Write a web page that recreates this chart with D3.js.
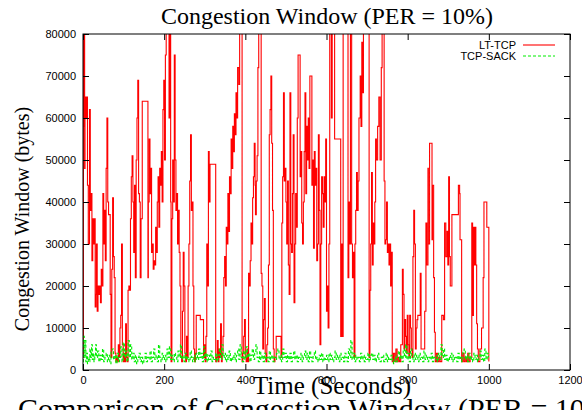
<!DOCTYPE html>
<html><head><meta charset="utf-8">
<script src="https://cdn.jsdelivr.net/npm/d3@7/dist/d3.min.js"></script>
<style>
html,body{margin:0;padding:0;background:#fff;}
svg{display:block;}
</style></head>
<body>
<svg id="chart" width="582" height="410"></svg>
<script>
// ---- data ----
const chartTitle = "Congestion Window (PER = 10%)";
const xLabel = "Time (Seconds)";
const yLabel = "Congestion Window (bytes)";
const caption = "Comparison of Congestion Window (PER = 10%)";
const seriesNames = ["LT-TCP", "TCP-SACK"];
const xTicks = [0, 200, 400, 600, 800, 1000, 1200];
const yTicks = [0, 10000, 20000, 30000, 40000, 50000, 60000, 70000, 80000];

// LT-TCP congestion window samples [time s, bytes]
const ltTcp = [
[0,3000],[1,95000],[2,58000],[3,90000],[4,48000],[5,65000],[7,60000],[9,65000],[11,44000],[13,30000],[16,62000],[18,38000],[20,42000],[22,26000],[24,36000],[26,30000],[28,36000],[30,15000],[32,18000],[33,30000],[35,14000],[37,20000],[39,18000],[41,20000],[43,16000],[45,24000],[47,20000],[49,42000],[51,30000],[53,38000],[55,26000],[57,48000],[59,60000],[61,40000],[63,37000],[65,37000],[67,18000],[69,3000],[71,24000],[73,41000],[75,27000],[77,22000],[79,4000],[81,2000],[83,3000],[85,2000],[87,6000],[89,3000],[91,10000],[93,13000],[95,30000],[97,6000],[99,2000],[101,4000],[103,2000],[105,11000],[107,3000],[109,2000],[111,19000],[113,20000],[115,19000],[117,36000],[119,46000],[121,51000],[123,40000],[125,28000],[127,44000],[129,22000],[131,50000],[133,60000],[135,69000],[137,42000],[139,40000],[141,22000],[143,36000],[146,64000],[159,64000],[160,22000],[161,40000],[163,55000],[165,42000],[167,48000],[169,28000],[171,30000],[173,24000],[175,26000],[177,25000],[179,34000],[181,28000],[183,40000],[185,46000],[187,34000],[189,48000],[191,44000],[193,52000],[195,40000],[197,62000],[199,69000],[201,50000],[203,75000],[205,95000],[209,90000],[212,60000],[214,95000],[216,40000],[217,2000],[219,36000],[221,50000],[223,40000],[225,75000],[227,50000],[229,38000],[231,42000],[233,30000],[235,38000],[237,28000],[239,20000],[241,3000],[243,2000],[245,14000],[247,28000],[249,20000],[251,4000],[253,2000],[255,8000],[257,3000],[259,20000],[261,30000],[263,45000],[265,56000],[267,38000],[269,40000],[271,20000],[273,5000],[275,2000],[277,4000],[279,13000],[287,13000],[289,12000],[295,12000],[297,3000],[299,6000],[301,2000],[303,8000],[305,30000],[307,20000],[309,52000],[311,40000],[313,49000],[325,49000],[327,2000],
[329,3000],[331,7000],[333,2000],[335,5000],[337,3000],[339,11000],[341,2000],[343,4000],[345,8000],[347,22000],[349,27000],[351,20000],[353,34000],[355,30000],[357,42000],[359,33000],[361,46000],[363,42000],[365,55000],[367,48000],[369,58000],[371,52000],[373,61000],[375,56000],[377,66000],[379,60000],[381,72000],[384,68000],[386,95000],[391,95000],[392,2000],[394,4000],[396,8000],[398,12000],[400,3000],[402,2000],[404,5000],[406,2000],[408,23000],[410,20000],[412,26000],[414,35000],[416,30000],[418,41000],[420,46000],[422,54000],[424,44000],[425,37000],[427,45000],[429,51000],[431,72000],[433,95000],[438,95000],[439,23000],[441,20000],[443,5000],[445,12000],[447,17000],[449,4000],[451,2000],[453,6000],[455,10000],[457,25000],[459,56000],[461,62000],[463,70000],[465,54000],[467,38000],[469,5000],[471,2000],[473,3000],[476,8000],[486,8000],[488,3000],[490,35000],[492,46000],[494,66000],[496,45000],
[498,48000],[500,40000],[502,30000],[504,45000],[506,25000],[508,18000],[510,66000],[512,30000],[514,28000],[516,42000],[518,56000],[520,16000],[522,30000],[524,42000],[526,34000],[528,60000],[530,75000],[533,75000],[535,46000],[537,52000],[539,35000],[541,30000],[543,40000],[545,52000],[547,66000],[549,42000],[551,58000],[553,50000],[555,60000],[557,48000],[559,70000],[562,70000],[564,44000],[566,50000],[568,29000],[570,52000],[572,44000],[574,48000],[576,26000],[578,30000],[580,56000],[582,38000],[584,6000],[586,30000],[588,46000],[590,42000],[592,34000],[594,46000],[596,40000],[598,55000],[600,14000],[602,20000],[604,10000],[606,30000],[608,95000],[612,60000],[614,95000],[618,95000],[620,55000],[634,55000],[635,8000],[637,30000],[639,8000],[641,95000],[652,95000],[653,22000],[655,40000],[657,30000],[659,95000],
[661,95000],[662,30000],[664,22000],[666,28000],[668,3000],[670,30000],[672,38000],[674,47000],[676,38000],[678,45000],[680,60000],[683,70000],[685,58000],[687,78000],[689,66000],[691,95000],[703,95000],[705,3000],[707,19000],[709,30000],[711,47000],[713,25000],[715,35000],[717,30000],[719,40000],[721,55000],[723,50000],[726,58000],[729,65000],[732,50000],[735,72000],[737,95000],[741,95000],[742,45000],[744,30000],[746,31000],[748,40000],[750,28000],[752,30000],[754,25000],[756,30000],[758,20000],[760,28000],[762,2000],[765,4000],[768,2000],[771,5000],[774,2000],[777,3000],[780,2000],[783,6000],[785,6000],[787,24000],[789,18000],[791,5000],[793,12000],[795,8000],[797,4000],[799,13000],[801,6000],[803,3000],[805,13000],[807,10000],[809,5000],[811,3000],[813,27000],[815,38000],[817,30000],[819,5000],[821,10000],[823,12000],
[825,13000],[827,13000],[831,23000],[833,5000],[837,5000],[842,14000],[845,35000],[847,25000],[850,48000],[851,30000],[854,54000],[858,54000],[860,31000],[861,44000],[864,22000],[866,9000],[868,2000],[871,4000],[874,2000],[877,3000],[880,2000],[884,13000],[888,12000],[891,35000],[894,27000],[897,33000],[899,25000],[901,46000],[903,27000],[905,20000],[909,37000],[925,44000],[928,42000],[929,31000],[933,2000],[936,4000],[939,2000],[942,3000],[945,2000],[948,4000],[951,2000],[954,3000],[958,35000],[960,13000],[962,34000],[964,25000],[966,34000],[968,25000],[970,11000],[972,5000],[974,2000],[978,5000],[982,10000],[986,22000],[988,40000],[995,34000],[1000,2000]
];

// TCP-SACK congestion window samples [time s, bytes]
const tcpSack = [
[0,2000],[1,8000],[3,3000],[5,7000],[7,2000],[9,4000],[11,1500],[13,3000],[15,2000],[17,5000],[19,3000],[21,6000],[23,2500],[25,4000],[27,2000],[29,3500],[31,6000],[33,3000],[36,4500],[39,2000],[42,3500],[45,2500],[48,5000],[51,2000],[54,3000],[57,4000],[60,2000],[63,3500],[66,1500],[69,4500],[72,5000],[75,2500],[78,3500],[81,1500],[84,4000],[87,2000],[90,3000],[93,5500],[96,2000],[99,6500],[102,3000],[105,4500],[108,2000],[111,7000],[114,3000],[117,6000],[120,2500],[123,4000],[126,2000],[129,3500],[132,1500],[135,3000],[138,4000],[141,2000],[144,3000],[147,1500],[150,2500],[153,4000],[156,2000],[159,3000],[162,2500],[165,4500],[168,2000],[171,3000],[174,5000],[177,2500],[180,3500],[183,2000],[186,6000],[189,3000],[192,2000],[195,4000],[198,2500],[201,3500],[204,2000],[207,5000],[210,3000],[213,5500],[216,2500],[219,3500],[222,2000],[225,4000],[228,3000],[231,2000],[234,4500],[237,3000],[240,6000],[243,2500],[246,3500],[249,2000],[252,4000],[255,2500],[258,3000],[261,2000],[264,4500],[267,3000],[270,2000],[273,3500],[276,2000],[279,4000],[282,2500],[285,5000],[288,3000],[291,4000],[294,2000],[297,5500],[300,2500],[303,4000],[306,2000],[309,3500],[312,2500],[315,4500],[318,2000],[321,3000],[324,2500],[327,4000],[330,2000],[333,3500],[336,5000],[339,2500],[342,6000],[345,3000],[348,4000],[351,2000],[354,3500],[357,2500],[360,4500],[363,2000],[366,3000],[369,2500],[372,4000],[375,2000],[378,3500],[381,5000],[384,2500],[387,6000],[390,3000],[393,2000],[396,4500],[399,2500],[402,5500],[405,3000],[408,4000],[411,2000],[414,3500],[417,5000],[420,2500],[423,4000],[426,6000],[429,3000],[432,2000],[435,4500],[438,2500],[441,3500],[444,2000],[447,4000],[450,2500],[453,3000],[456,2000],[459,4500],[462,2500],[465,3500],[468,2000],[471,3000],[474,2500],[477,4000],[480,5000],[483,2500],[486,3500],[489,2000],[492,5000],[495,3000],[498,4000],[501,2000],[504,3500],[507,2500],[510,4000],[513,2000],[516,3000],[519,4500],[522,2500],[525,3500],[528,2000],[531,3000],[534,2500],[537,4000],[540,2000],[543,3500],[546,4500],[549,2500],[552,4000],[555,2000],[558,4500],[561,3000],[564,2000],[567,3500],[570,4500],[573,2500],[576,3000],[579,2000],[582,3500],[585,2500],[588,4000],[591,2000],[594,3000],[597,2500],[600,3500],[603,2000],[606,4000],[609,2500],[612,3500],[615,2000],[618,3000],[621,4500],[624,2500],[627,3500],[630,2000],[633,4000],[636,2500],[639,3000],[642,2000],[645,4000],[648,3000],[651,2000],[654,5000],[657,3000],[660,7000],[663,2500],[666,4000],[669,2000],[672,3500],[675,2500],[678,3000],[681,2000],[684,4000],[687,2500],[690,3500],[693,2000],[696,3000],[699,2500],[702,4000],[705,2000],[708,3500],[711,4000],[714,2500],[717,3500],[720,2000],[723,3000],[726,4000],[729,2500],[732,2000],[735,3000],[738,3500],[741,2000],[744,2500],[747,4000],[750,2000],[753,3000],[756,2500],[759,3500],[762,2000],[765,1500],[768,3000],[771,2000],[774,3500],[777,4500],[780,2500],[783,3500],[786,2000],[789,5000],[792,3000],[795,6000],[798,2500],[801,4000],[804,2000],[807,5000],[810,3000],[813,2000],[816,4000],[819,2500],[822,3500],[825,2000],[828,4000],[831,2500],[834,3000],[837,2000],[840,4500],[843,2500],[846,3500],[849,2000],[852,3000],[855,2500],[858,4000],[861,2000],[864,3000],[867,2500],[870,3500],[873,2000],[876,4000],[879,2500],[882,6000],[885,3000],[888,5000],[891,2500],[894,3500],[897,2000],[900,3000],[903,2500],[906,4000],[909,2000],[912,3500],[915,2500],[918,3000],[921,2000],[924,4000],[927,2500],[930,3000],[933,2000],[936,4500],[939,5000],[942,2500],[945,3500],[948,2000],[951,4000],[954,2500],[957,3000],[960,2000],[963,4000],[966,2500],[969,3500],[972,2000],[975,3000],[978,4500],[981,2500],[984,3500],[987,2000],[990,5000],[993,2500],[996,4000],[999,3000]
];

// ---- drawing ----
const svg = d3.select("#chart");
const L = 83, R = 570, T = 34, B = 370;
const x = d3.scaleLinear().domain([0, 1200]).range([L, R]);
const y = d3.scaleLinear().domain([0, 80000]).range([B, T]);
const sans = "'Liberation Sans', Arial, sans-serif";
const serif = "'Liberation Serif', 'Times New Roman', serif";

svg.append("defs").append("clipPath").attr("id", "clip")
  .append("rect").attr("x", L).attr("y", T).attr("width", R - L).attr("height", B - T);

const plot = svg.append("g").attr("clip-path", "url(#clip)");
const line = d3.line().x(d => x(d[0])).y(d => y(d[1])).curve(d3.curveStepAfter);

plot.append("path").datum(ltTcp)
  .attr("d", line).attr("fill", "none")
  .attr("stroke", "#ff0000").attr("stroke-width", 1.1);
plot.append("path").datum(tcpSack)
  .attr("d", line).attr("fill", "none")
  .attr("stroke", "#00ee00").attr("stroke-width", 1.1)
  .attr("stroke-dasharray", "3,2");

function styleAxis(g, showText) {
  g.select(".domain").remove();
  g.selectAll("line").attr("stroke", "#000");
  g.selectAll("text").attr("font-family", sans).attr("font-size", 11).attr("fill", "#000");
  if (!showText) g.selectAll("text").remove();
}
svg.append("g").attr("transform", `translate(${L},0)`)
  .call(d3.axisLeft(y).tickValues(yTicks).tickFormat(d3.format("d")).tickSizeInner(-6).tickSizeOuter(0).tickPadding(7))
  .call(g => styleAxis(g, true));
svg.append("g").attr("transform", `translate(${R},0)`)
  .call(d3.axisRight(y).tickValues(yTicks).tickSizeInner(-6).tickSizeOuter(0))
  .call(g => styleAxis(g, false));
svg.append("g").attr("transform", `translate(0,${B})`)
  .call(d3.axisBottom(x).tickValues(xTicks).tickFormat(d3.format("d")).tickSizeInner(-6).tickSizeOuter(0).tickPadding(6))
  .call(g => styleAxis(g, true));
svg.append("g").attr("transform", `translate(0,${T})`)
  .call(d3.axisTop(x).tickValues(xTicks).tickSizeInner(-6).tickSizeOuter(0))
  .call(g => styleAxis(g, false));

svg.append("rect").attr("x", L).attr("y", T).attr("width", R - L).attr("height", B - T)
  .attr("fill", "none").attr("stroke", "#000").attr("stroke-width", 1);

// titles
svg.append("text").attr("x", 327).attr("y", 24).attr("text-anchor", "middle")
  .attr("font-family", serif).attr("font-size", 24).text(chartTitle);
svg.append("text").attr("x", 332).attr("y", 394).attr("text-anchor", "middle")
  .attr("font-family", serif).attr("font-size", 25).text(xLabel);
svg.append("text").attr("transform", `translate(29,${219}) rotate(-90)`).attr("text-anchor", "middle")
  .attr("font-family", serif).attr("font-size", 20).text(yLabel);
svg.append("text").attr("x", 18).attr("y", 419).attr("text-anchor", "start")
  .attr("font-family", serif).attr("font-size", 30).text(caption);

// legend
const legend = svg.append("g");
const legColors = ["#ff0000", "#00ee00"];
const legDash = [null, "3,2"];
seriesNames.forEach((name, i) => {
  const ly = 45 + i * 11;
  legend.append("text").attr("x", 516).attr("y", ly + 4).attr("text-anchor", "end")
    .attr("font-family", sans).attr("font-size", 11).text(name);
  legend.append("line").attr("x1", 523).attr("x2", 555).attr("y1", ly).attr("y2", ly)
    .attr("stroke", legColors[i]).attr("stroke-width", 1.1)
    .attr("stroke-dasharray", legDash[i]);
});
</script>
</body></html>
